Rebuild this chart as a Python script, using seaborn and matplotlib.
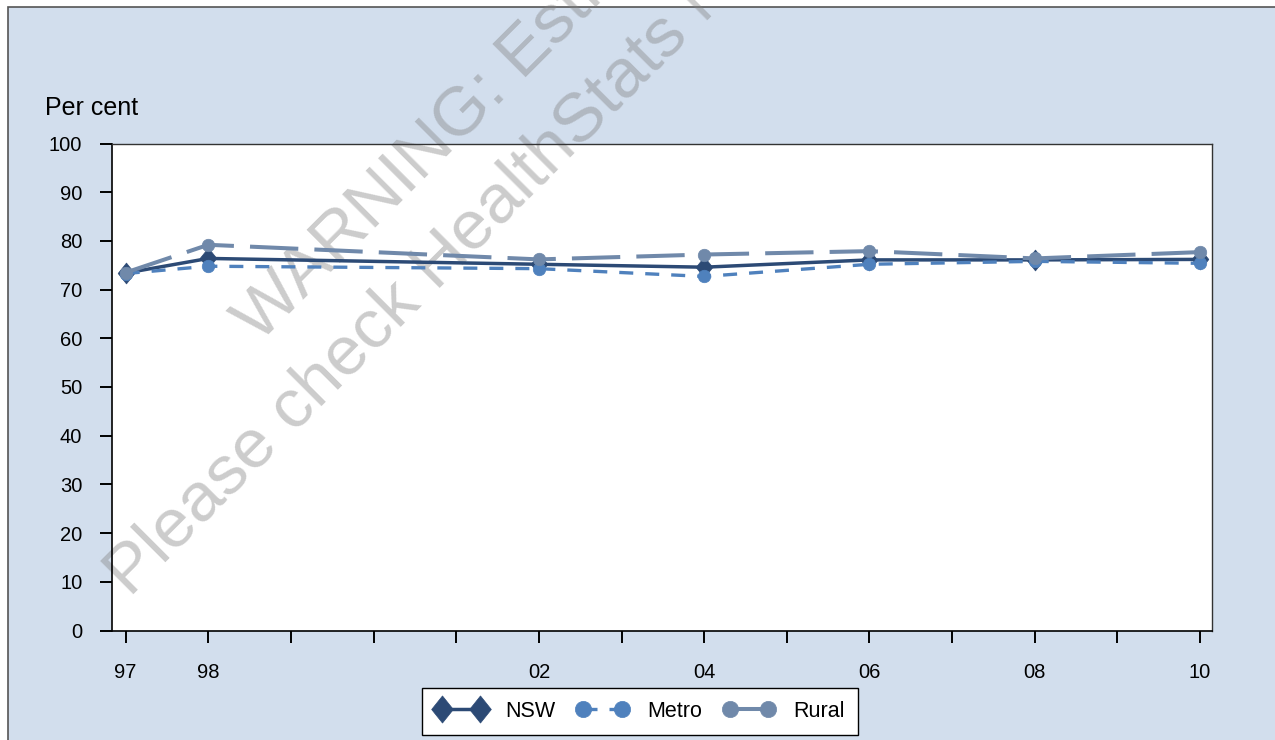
import matplotlib
matplotlib.use("Agg")
import matplotlib.pyplot as plt
from matplotlib.patches import Rectangle
from matplotlib.path import Path
import seaborn as sns

# Survey years and per-cent estimates for each region
years = [1997, 1998, 2002, 2004, 2006, 2008, 2010]
nsw = [73.4, 76.4, 75.2, 74.6, 76.1, 76.1, 76.2]
metro = [73.3, 74.8, 74.3, 72.7, 75.2, 75.8, 75.4]
rural = [73.5, 79.2, 76.2, 77.2, 77.9, 76.4, 77.7]

tick_years = list(range(1997, 2011))
tick_labels = ["97", "98", "", "", "", "02", "", "04", "", "06", "", "08", "", "10"]

sns.set_theme(style="white")
plt.rcParams["font.family"] = ["Liberation Sans", "DejaVu Sans"]
plt.rcParams["text.color"] = "black"

W, H = 1275, 740
fig = plt.figure(figsize=(W / 100, H / 100), dpi=100, facecolor="white")

# pale blue chart area with a thin grey frame, kept behind the axes
fig.patches.append(Rectangle((7.5 / W, -0.1), 1.2, 1.1 - 7.5 / H, transform=fig.transFigure,
                             facecolor="#D2DEED", edgecolor="#555555", linewidth=1.2,
                             zorder=-10))

ax = fig.add_axes([112.3 / W, (H - 630.5) / H, (1212.3 - 112.3) / W, (630.5 - 143.5) / H])
ax.set_facecolor("white")

diamond = Path([(0, 1), (0.8, 0), (0, -1), (-0.8, 0), (0, 1)],
               [Path.MOVETO, Path.LINETO, Path.LINETO, Path.LINETO, Path.CLOSEPOLY])

sns.lineplot(x=years, y=nsw, ax=ax, color="#2C4A75", linewidth=2.5, marker=diamond,
             markersize=15, markeredgecolor="#2C4A75", markeredgewidth=0.5,
             label="NSW", zorder=3)
sns.lineplot(x=years, y=metro, ax=ax, color="#4F81BD", linewidth=2.4,
             linestyle=(0, (4.2, 3.6)), marker="o", markersize=9,
             markeredgecolor="#4F81BD", markeredgewidth=0.5, label="Metro", zorder=4)
sns.lineplot(x=years, y=rural, ax=ax, color="#7089AA", linewidth=2.9,
             linestyle=(0, (12, 4)), marker="o", markersize=9,
             markeredgecolor="#7089AA", markeredgewidth=0.5, label="Rural", zorder=5)

ax.set_xlim(1996.838, 2010.149)
ax.set_ylim(0, 100)
ax.set_yticks(range(0, 101, 10))
ax.set_xticks(tick_years)
ax.set_xticklabels(tick_labels)
ax.set_xlabel("")
ax.set_ylabel("")

ax.tick_params(axis="both", direction="out", length=8.6, width=1.4, color="black",
               labelsize=14.5, labelcolor="black")
ax.tick_params(axis="y", left=True, pad=13)
ax.tick_params(axis="x", bottom=True, pad=14.5)
for side, sp in ax.spines.items():
    sp.set_visible(True)
    sp.set_color("black" if side in ("left", "bottom") else "#333333")
    sp.set_linewidth(1.2 if side in ("left", "bottom") else 1.0)

fig.text(45 / W, (H - 115) / H, "Per cent", fontsize=18, color="black",
         ha="left", va="baseline")

# translucent grey watermark behind the series
wm = dict(fontsize=50, color="#808080", alpha=0.4, rotation=45,
          rotation_mode="anchor", ha="left", va="baseline",
          transform=fig.transFigure, clip_on=False, zorder=1.5)
ax.text(259 / W, (H - 344) / H, "WARNING: Estimates may be unreliable", **wm)
ax.text(130 / W, (H - 598) / H, "Please check HealthStats NSW", **wm)

leg = ax.legend(loc="upper center", bbox_to_anchor=(640 / W, (H - 688) / H),
                bbox_transform=fig.transFigure, ncol=3, numpoints=2, fontsize=15.5,
                frameon=True, fancybox=False, framealpha=1, edgecolor="black",
                handlelength=2.4, handletextpad=0.85, columnspacing=1.0,
                borderpad=0.6, borderaxespad=0, markerscale=1.3)
leg.get_frame().set_linewidth(1.0)
for t in leg.get_texts():
    t.set_color("black")

fig.savefig("out.png", dpi=100, facecolor=fig.get_facecolor())
